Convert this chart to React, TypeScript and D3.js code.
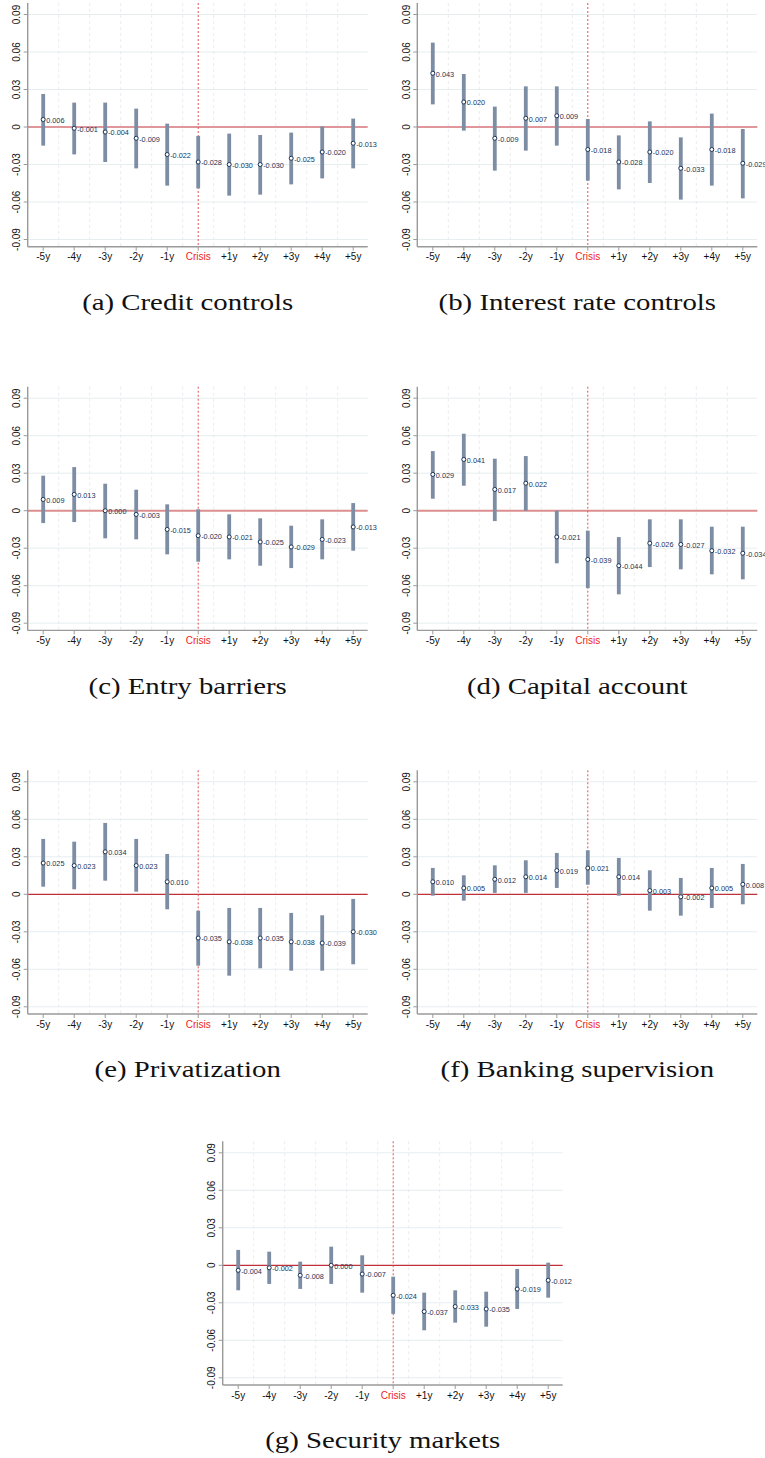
import React from "react";
import * as d3 from "d3";

const steps = ["-5y", "-4y", "-3y", "-2y", "-1y", "Crisis", "+1y", "+2y", "+3y", "+4y", "+5y"];
const yTicks = [-0.09, -0.06, -0.03, 0, 0.03, 0.06, 0.09];

// (a) Credit controls
const creditEst = [0.006, -0.001, -0.004, -0.009, -0.022, -0.028, -0.030, -0.030, -0.025, -0.020, -0.013];
const creditHi = [0.0264, 0.0195, 0.0195, 0.0147, 0.0027, -0.0072, -0.0053, -0.0064, -0.0045, 0.0005, 0.0067];
const creditLo = [-0.0149, -0.0219, -0.028, -0.0331, -0.0469, -0.0491, -0.0549, -0.0541, -0.0459, -0.0411, -0.0331];

// (b) Interest rate controls
const interestEst = [0.043, 0.020, -0.009, 0.007, 0.009, -0.018, -0.028, -0.020, -0.033, -0.018, -0.029];
const interestHi = [0.0675, 0.0424, 0.0163, 0.0325, 0.0325, 0.0064, -0.0067, 0.0045, -0.0083, 0.0107, -0.0016];
const interestLo = [0.0181, -0.0029, -0.0349, -0.0189, -0.0149, -0.0429, -0.0499, -0.0448, -0.0581, -0.0469, -0.0571];

// (c) Entry barriers
const entryEst = [0.009, 0.013, 0.000, -0.003, -0.015, -0.020, -0.021, -0.025, -0.029, -0.023, -0.013];
const entryHi = [0.028, 0.0349, 0.0216, 0.0168, 0.0051, 0.0011, -0.0029, -0.0061, -0.012, -0.0069, 0.0061];
const entryLo = [-0.0099, -0.0091, -0.0221, -0.0229, -0.0349, -0.0408, -0.0389, -0.044, -0.0459, -0.0389, -0.032];

// (d) Capital account
const capitalEst = [0.029, 0.041, 0.017, 0.022, -0.021, -0.039, -0.044, -0.026, -0.027, -0.032, -0.034];
const capitalHi = [0.0477, 0.0616, 0.0416, 0.0437, 0.0, -0.016, -0.0211, -0.0069, -0.0069, -0.0128, -0.0128];
const capitalLo = [0.0096, 0.02, -0.0083, 0.0, -0.0421, -0.0619, -0.0669, -0.0451, -0.0469, -0.0509, -0.0549];

// (e) Privatization
const privEst = [0.025, 0.023, 0.034, 0.023, 0.010, -0.035, -0.038, -0.035, -0.038, -0.039, -0.030];
const privHi = [0.0443, 0.0421, 0.0571, 0.0443, 0.0323, -0.0131, -0.0109, -0.0109, -0.0149, -0.0168, -0.0037];
const privLo = [0.0061, 0.004, 0.0109, 0.0021, -0.012, -0.0571, -0.0651, -0.0592, -0.0611, -0.0611, -0.056];

// (f) Banking supervision
const bankEst = [0.010, 0.005, 0.012, 0.014, 0.019, 0.021, 0.014, 0.003, -0.002, 0.005, 0.008];
const bankHi = [0.0211, 0.0152, 0.0232, 0.0272, 0.0331, 0.0352, 0.0291, 0.0192, 0.0131, 0.0211, 0.0243];
const bankLo = [-0.0011, -0.0051, 0.0011, 0.0011, 0.0051, 0.0077, -0.0011, -0.0131, -0.0171, -0.0109, -0.008];

// (g) Security markets
const secEst = [-0.004, -0.002, -0.008, 0.000, -0.007, -0.024, -0.037, -0.033, -0.035, -0.019, -0.012];
const secHi = [0.0123, 0.0109, 0.0029, 0.0149, 0.008, -0.0091, -0.0219, -0.02, -0.0211, -0.0029, 0.0021];
const secLo = [-0.02, -0.0149, -0.0189, -0.0149, -0.0219, -0.0389, -0.052, -0.0459, -0.0491, -0.0349, -0.0259];

const captions = [
  "(a) Credit controls",
  "(b) Interest rate controls",
  "(c) Entry barriers",
  "(d) Capital account",
  "(e) Privatization",
  "(f) Banking supervision",
  "(g) Security markets",
];

const panels = [
  { caption: captions[0], est: creditEst, hi: creditHi, lo: creditLo, x0: 27.7, y0: 127, soft: false },
  { caption: captions[1], est: interestEst, hi: interestHi, lo: interestLo, x0: 417.3, y0: 127, soft: false },
  { caption: captions[2], est: entryEst, hi: entryHi, lo: entryLo, x0: 27.7, y0: 510.7, soft: true },
  { caption: captions[3], est: capitalEst, hi: capitalHi, lo: capitalLo, x0: 417.3, y0: 510.7, soft: true },
  { caption: captions[4], est: privEst, hi: privHi, lo: privLo, x0: 27.7, y0: 894.3, soft: false },
  { caption: captions[5], est: bankEst, hi: bankHi, lo: bankLo, x0: 417.3, y0: 894.3, soft: false },
  { caption: captions[6], est: secEst, hi: secHi, lo: secLo, x0: 222.7, y0: 1265.3, soft: false },
];

const SANS = "Liberation Sans, Arial, Helvetica, sans-serif";
const SERIF = "Liberation Serif, Times New Roman, serif";
const hy = (s: string) => s.replace(/\u2212/g, "-");
const fmt = (v: number) => hy(d3.format(".3f")(v));
const yTickFmt = (v: number) => (v === 0 ? "0" : hy(d3.format(".2f")(v)));

function Panel({ p }: { p: (typeof panels)[number] }) {
  const { x0, y0 } = p;
  const x = d3.scalePoint<string>().domain(steps).range([x0 + 15.5, x0 + 15.5 + 310]);
  const y = d3.scaleLinear().domain([-0.09, 0.09]).range([y0 + 112.5, y0 - 112.5]);
  const top = y0 - 124;
  const bottom = y0 + 119.7;
  const right = x0 + 340;
  const step = x.step();
  const mids = steps.slice(0, -1).map((s) => (x(s) as number) + step / 2);
  const crisisX = x("Crisis") as number;
  const navy = "#1a3358";

  return (
    <g>
      {yTicks
        .filter((t) => t !== 0)
        .map((t) => (
          <line key={"hg" + t} x1={x0} x2={right} y1={y(t)} y2={y(t)} stroke="#e6eef0" strokeWidth={1} />
        ))}
      {mids.map((m, i) => (
        <line key={"vg" + i} x1={m} x2={m} y1={top} y2={bottom} stroke="#e2e6ea" strokeWidth={0.8} strokeDasharray="3,3" />
      ))}
      <line
        x1={x0}
        x2={right}
        y1={y(0)}
        y2={y(0)}
        stroke={p.soft ? "#dc8e8e" : "#c0303a"}
        strokeWidth={p.soft ? 2 : 1.2}
      />
      <line x1={crisisX} x2={crisisX} y1={top} y2={bottom} stroke="#e35050" strokeWidth={1} strokeDasharray="2,2" />
      {steps.map((s, i) => (
        <rect
          key={"b" + s}
          x={(x(s) as number) - 1.9}
          width={3.8}
          y={y(p.hi[i])}
          height={Math.max(0.5, y(p.lo[i]) - y(p.hi[i]))}
          fill="#7d8ea4"
        />
      ))}
      {steps.map((s, i) => (
        <g key={"p" + s}>
          <circle cx={x(s) as number} cy={y(p.est[i])} r={2} fill="#ffffff" stroke={navy} strokeWidth={1} />
          <text
            x={(x(s) as number) + 3}
            y={y(p.est[i]) + 0.8}
            fontFamily={SANS}
            fontSize={7.3}
            fill={navy}
            dominantBaseline="central"
          >
            {fmt(p.est[i])}
          </text>
        </g>
      ))}
      <line x1={x0} x2={x0} y1={top} y2={bottom} stroke="#9a9a9a" strokeWidth={1.4} />
      {yTicks.map((t) => (
        <g key={"yt" + t}>
          <line x1={x0 - 4} x2={x0} y1={y(t)} y2={y(t)} stroke="#9a9a9a" strokeWidth={1} />
          <text
            transform={`translate(${x0 - 11},${y(t)}) rotate(-90)`}
            textAnchor="middle"
            dominantBaseline="central"
            fontFamily={SANS}
            fontSize={10}
            fill="#111"
          >
            {yTickFmt(t)}
          </text>
        </g>
      ))}
      <line x1={x0} x2={right} y1={bottom} y2={bottom} stroke="#9a9a9a" strokeWidth={1.4} />
      {steps.map((s) => (
        <g key={"xt" + s}>
          <line x1={x(s) as number} x2={x(s) as number} y1={bottom} y2={bottom + 4} stroke="#9a9a9a" strokeWidth={1} />
          <text
            x={x(s) as number}
            y={y0 + 129.7}
            textAnchor="middle"
            dominantBaseline="central"
            fontFamily={SANS}
            fontSize={10}
            fill={s === "Crisis" ? "#ee2222" : "#111"}
          >
            {s}
          </text>
        </g>
      ))}
      <text
        transform={`translate(${x0 + 160},${y0 + 183}) scale(1.2,1)`}
        textAnchor="middle"
        fontFamily={SERIF}
        fontSize={24}
        fill="#111"
      >
        {p.caption}
      </text>
    </g>
  );
}

export default function App() {
  return (
    <svg
      width={765}
      height={1458}
      viewBox="0 0 765 1458"
      style={{ position: "absolute", left: 0, top: 0, background: "#fff" }}
    >
      <rect x={0} y={0} width={765} height={1458} fill="#fff" />
      {panels.map((p) => (
        <Panel key={p.caption} p={p} />
      ))}
    </svg>
  );
}
